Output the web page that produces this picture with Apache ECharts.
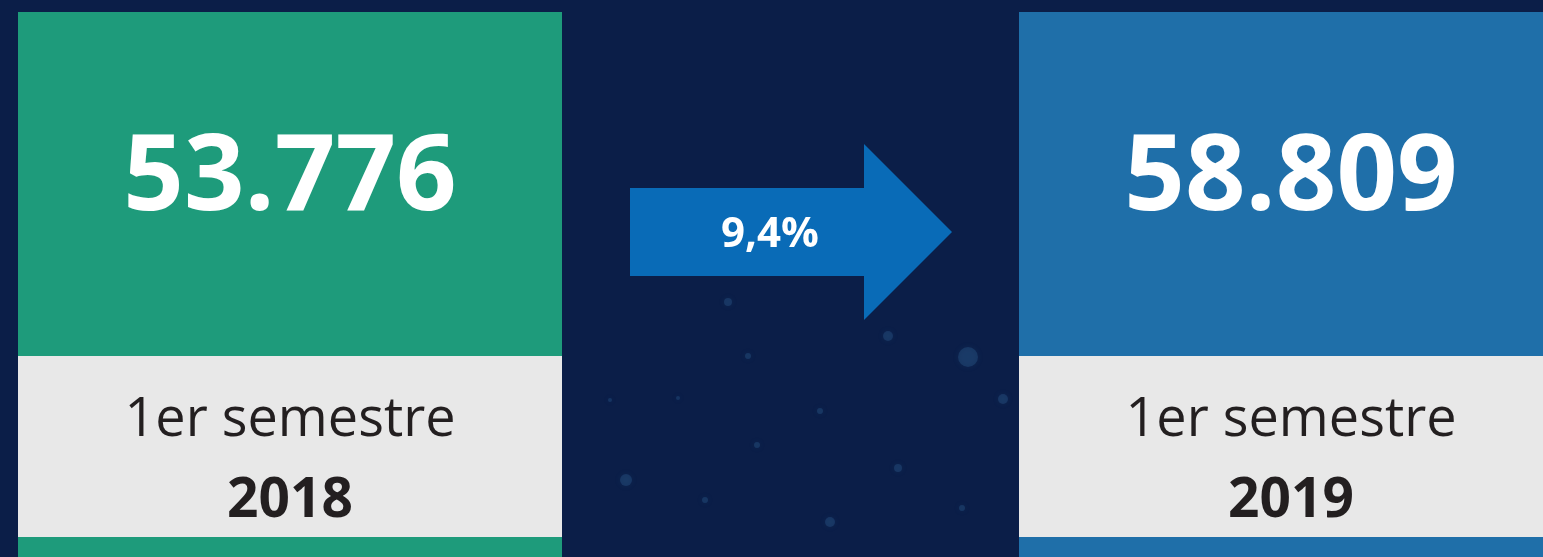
<!DOCTYPE html>
<html><head><meta charset="utf-8">
<script src="https://cdn.jsdelivr.net/npm/echarts@6/dist/echarts.min.js"></script>
<style>html,body{margin:0;padding:0;background:#0b1e48;}#c{width:1543px;height:557px;}</style>
</head><body><div id="c"></div>
<script>
var periods = ['1er semestre', '1er semestre'];
var years = ['2018', '2019'];
var values = [53776, 58809];
var boxColors = ['#1e9b7b', '#1f6fa9'];

function fmt(v){ return String(v).replace(/\B(?=(\d{3})+(?!\d))/g, '.'); }
var pct = ((values[1] / values[0] - 1) * 100).toFixed(1).replace('.', ',') + '%';

var FONT = 'Open Sans';
var boxX = [18, 1019], boxW = 544, boxTop = 12, grayTop = 356, grayH = 181;
var els = [];
// faint particles in background
var dots = [[728,302,4],[968,357,10],[888,336,5],[1003,399,5],[748,356,3],[626,480,6],[820,411,3],[830,522,5],[898,468,4],[757,445,3],[678,398,2],[962,508,3],[610,400,2],[705,500,3]];
dots.forEach(function(d){
  els.push({type:'circle', shape:{cx:d[0], cy:d[1], r:d[2]}, style:{fill:'rgba(60,120,170,0.25)', shadowBlur:6, shadowColor:'rgba(60,120,170,0.4)'}, silent:true});
});
for (var i = 0; i < 2; i++) {
  var cx = boxX[i] + boxW / 2;
  els.push({type:'rect', shape:{x:boxX[i], y:boxTop, width:boxW, height:557-boxTop}, style:{fill:boxColors[i]}});
  els.push({type:'rect', shape:{x:boxX[i], y:grayTop, width:boxW, height:grayH}, style:{fill:'#e8e8e8'}});
  els.push({type:'text', x:cx, y:180, style:{text:fmt(values[i]), fill:'#ffffff', font:'bold 106px "' + FONT + '"', align:'center', verticalAlign:'middle'}});
  els.push({type:'text', x:cx, y:421, style:{text:periods[i], fill:'#231f20', font:'normal 54px "' + FONT + '"', align:'center', verticalAlign:'middle'}});
  els.push({type:'text', x:cx, y:501, style:{text:years[i], fill:'#231f20', font:'bold 55px "' + FONT + '"', align:'center', verticalAlign:'middle'}});
}
els.push({type:'polygon', shape:{points:[[630,188],[864,188],[864,144],[952,232],[864,320],[864,276],[630,276]]}, style:{fill:'#096bb7'}});
els.push({type:'text', x:770, y:235, style:{text:pct, fill:'#ffffff', font:'bold 42px "' + FONT + '"', align:'center', verticalAlign:'middle'}});

var chart = echarts.init(document.getElementById('c'));
chart.setOption({backgroundColor:'#0b1e48', animation:false, graphic:{elements:els}});
</script></body></html>
